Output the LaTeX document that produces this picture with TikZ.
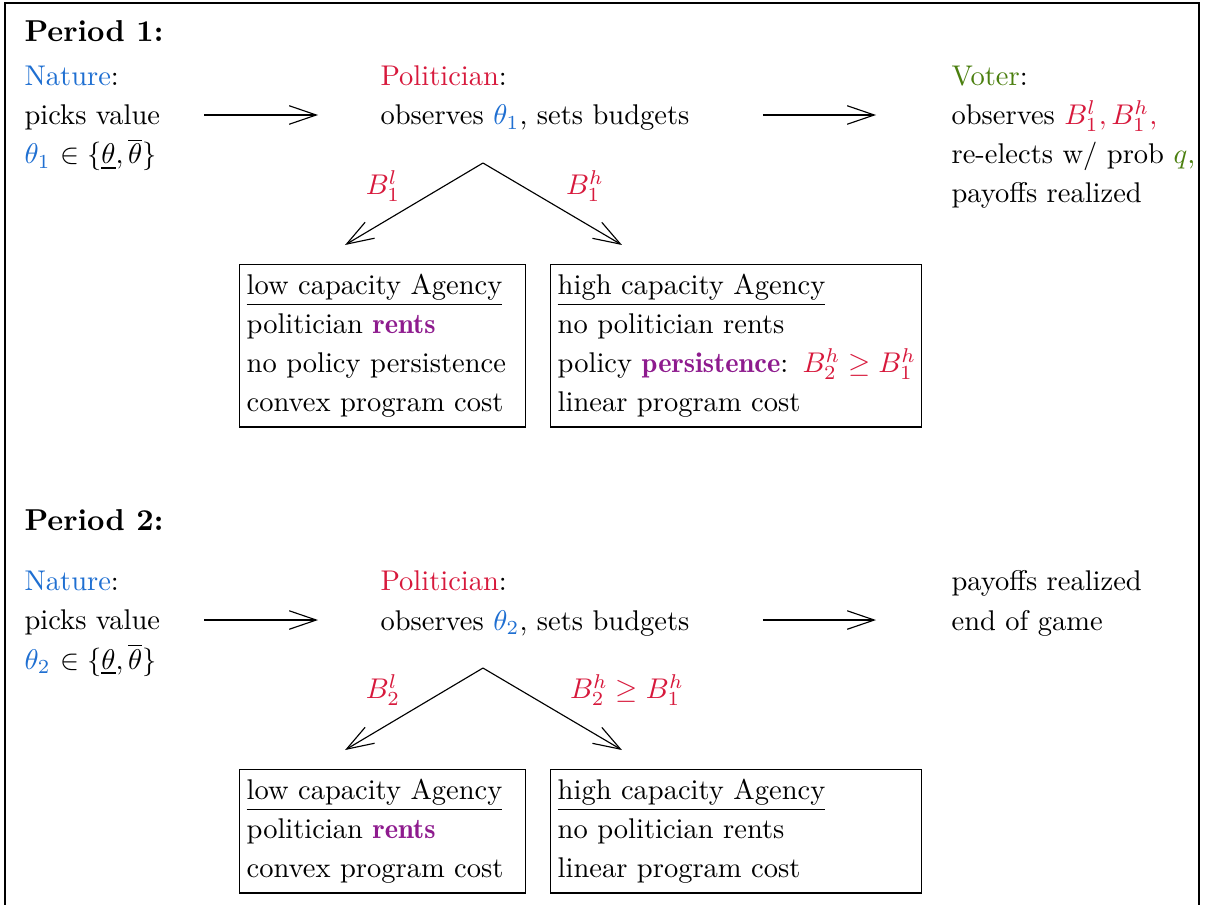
\documentclass[tikz,border=0pt]{standalone}
\usepackage{amsmath}
\usepackage{amssymb}
\usepackage{xcolor}
\usepackage{tikz}
\usetikzlibrary{arrows.meta}
\definecolor{natureblue}{HTML}{1F6FD1}
\definecolor{polred}{HTML}{D7193C}
\definecolor{votergreen}{HTML}{4B7F0F}
\definecolor{rentpurple}{HTML}{8E1B8E}
\newcommand{\keyword}[1]{\textcolor{rentpurple}{\fontseries{b}\selectfont #1}}
\tikzset{
  txt/.style={anchor=base west,inner sep=0pt,align=left,font=\fontsize{10}{13.7}\selectfont},
  period/.style={anchor=base west,inner sep=0pt,font=\fontsize{10.6}{13}\selectfont\bfseries},
  agency/.style={draw,anchor=north west,align=left,inner xsep=2.5pt,font=\fontsize{10}{13.7}\selectfont},
  move/.style={-{Straight Barb[length=9.5pt,width=6.5pt]}},
  blab/.style={text=polred,font=\fontsize{10}{13.7}\selectfont}
}
\begin{document}
\begin{tikzpicture}
  \useasboundingbox (0,0) rectangle (14.86,-11.16);
  % Rahmen
  \draw (0.062,-0.037) rectangle (14.786,-11.6);
  % Period 1 (base = letzte Zeile)
  \node[period] (p1) at (0.296,-0.506) {Period 1:};
  \node[txt] (nat1) at (0.296,-2.022) {\textcolor{natureblue}{Nature}:\\picks value\\\textcolor{natureblue}{$\theta_1$} $\in\{\underline{\theta},\overline{\theta}\}$};
  \node[txt] (pol1) at (4.686,-1.541) {\textcolor{polred}{Politician}:\\observes \textcolor{natureblue}{$\theta_1$}, sets budgets};
  \node[txt] (vot1) at (11.728,-2.503) {\textcolor{votergreen}{Voter}:\\observes \textcolor{polred}{$B_1^l, B_1^h$,}\\re-elects w/ prob \textcolor{votergreen}{$q$,}\\payoffs realized};
  \coordinate (a1s) at (2.516,-1.418);
  \coordinate (a1e) at (3.922,-1.418);
  \coordinate (b1s) at (9.409,-1.418);
  \coordinate (b1e) at (10.803,-1.418);
  \draw[move] (a1s) -- (a1e);
  \draw[move] (b1s) -- (b1e);
  % Verzweigung
  \coordinate (top1) at (5.956,-2.010);
  \coordinate (l1) at (4.255,-3.021);
  \coordinate (h1) at (7.670,-3.021);
  \draw[move] (top1) -- (l1);
  \draw[move] (top1) -- (h1);
  \node[blab] (bl1) at (4.723,-2.294) {$B_1^l$};
  \node[blab] (bh1) at (7.214,-2.294) {$B_1^h$};
  \node[agency,text width=3.35cm] (low1) at (2.947,-3.256) {\underline{low capacity Agency}\\politician \keyword{rents}\\no policy persistence\\convex program cost};
  \node[agency,text width=4.4cm] (high1) at (6.783,-3.256) {\underline{high capacity Agency}\\no politician rents\\\mbox{policy \keyword{persistence}: \textcolor{polred}{$B_2^h\geq B_1^h$}}\\linear program cost};
  % Period 2
  \node[period] (p2) at (0.296,-6.548) {Period 2:};
  \node[txt] (nat2) at (0.296,-8.250) {\textcolor{natureblue}{Nature}:\\picks value\\\textcolor{natureblue}{$\theta_2$} $\in\{\underline{\theta},\overline{\theta}\}$};
  \node[txt] (pol2) at (4.686,-7.769) {\textcolor{polred}{Politician}:\\observes \textcolor{natureblue}{$\theta_2$}, sets budgets};
  \node[txt] (end2) at (11.728,-7.769) {payoffs realized\\end of game};
  \coordinate (a2s) at (2.516,-7.646);
  \coordinate (a2e) at (3.922,-7.646);
  \coordinate (b2s) at (9.409,-7.646);
  \coordinate (b2e) at (10.803,-7.646);
  \draw[move] (a2s) -- (a2e);
  \draw[move] (b2s) -- (b2e);
  \coordinate (top2) at (5.956,-8.238);
  \coordinate (l2) at (4.255,-9.249);
  \coordinate (h2) at (7.670,-9.249);
  \draw[move] (top2) -- (l2);
  \draw[move] (top2) -- (h2);
  \node[blab] (bl2) at (4.723,-8.509) {$B_2^l$};
  \node[blab] (bh2) at (7.732,-8.509) {$B_2^h\geq B_1^h$};
  \node[agency,text width=3.35cm] (low2) at (2.947,-9.483) {\underline{low capacity Agency}\\politician \keyword{rents}\\convex program cost};
  \node[agency,text width=4.4cm] (high2) at (6.783,-9.483) {\underline{high capacity Agency}\\no politician rents\\linear program cost};
\end{tikzpicture}
\end{document}
